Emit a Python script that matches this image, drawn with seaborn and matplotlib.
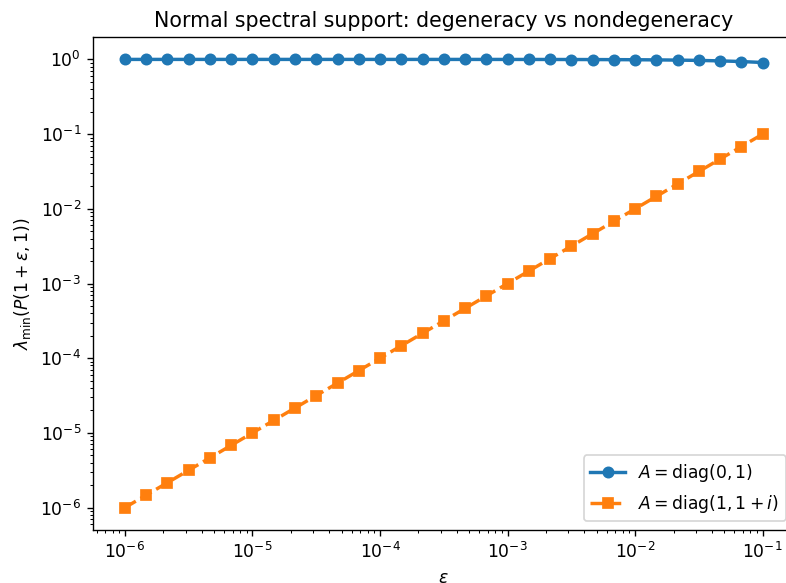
import matplotlib
matplotlib.use("Agg")
import matplotlib.pyplot as plt
import seaborn as sns
import numpy as np

eps = [1.000e-6, 1.468e-6, 2.154e-6, 3.162e-6, 4.642e-6, 6.813e-6,
       1.000e-5, 1.468e-5, 2.154e-5, 3.162e-5, 4.642e-5, 6.813e-5,
       1.000e-4, 1.468e-4, 2.154e-4, 3.162e-4, 4.642e-4, 6.813e-4,
       1.000e-3, 1.468e-3, 2.154e-3, 3.162e-3, 4.642e-3, 6.813e-3,
       1.000e-2, 1.468e-2, 2.154e-2, 3.162e-2, 4.642e-2, 6.813e-2,
       1.000e-1]

lam_degenerate = [1.0, 1.0, 1.0, 1.0, 1.0, 0.99999,
                  0.99999, 0.99999, 0.99998, 0.99997, 0.99995, 0.99993,
                  0.9999, 0.99985, 0.99978, 0.99968, 0.99954, 0.99932,
                  0.9990, 0.99853, 0.99785, 0.99685, 0.99538, 0.99323,
                  0.9901, 0.98553, 0.97891, 0.96935, 0.95564, 0.93621,
                  0.90909]

lam_nondegenerate = [1.000e-6, 1.468e-6, 2.154e-6, 3.162e-6, 4.642e-6, 6.813e-6,
                     1.000e-5, 1.468e-5, 2.154e-5, 3.162e-5, 4.642e-5, 6.813e-5,
                     1.000e-4, 1.468e-4, 2.154e-4, 3.162e-4, 4.642e-4, 6.813e-4,
                     1.000e-3, 1.468e-3, 2.154e-3, 3.162e-3, 4.642e-3, 6.813e-3,
                     1.000e-2, 1.468e-2, 2.154e-2, 3.162e-2, 4.642e-2, 6.813e-2,
                     1.000e-1]

labels = [r"$A = \mathrm{diag}(0, 1)$", r"$A = \mathrm{diag}(1, 1 + i)$"]
colors = ["#1f77b4", "#ff7f0e"]

DPI = 123
fig = plt.figure(figsize=(786 / DPI, 583 / DPI), dpi=DPI)
ax = fig.add_axes([93 / 786, 53 / 583, (794.6 - 93) / 786, (530 - 37) / 583])

sns.lineplot(x=eps, y=lam_degenerate, ax=ax, color=colors[0], marker="o",
             linestyle="-", linewidth=2, markersize=6, markeredgecolor=colors[0],
             markeredgewidth=1, label=labels[0])
sns.lineplot(x=eps, y=lam_nondegenerate, ax=ax, color=colors[1], marker="s",
             linestyle="--", linewidth=2, markersize=6, markeredgecolor=colors[1],
             markeredgewidth=1, label=labels[1])

ax.set_xscale("log")
ax.set_yscale("log")
ax.set_xlim(10 ** -6.25, 10 ** -0.75)
ax.set_ylim(10 ** -6.3, 10 ** 0.3)
ax.set_xlabel(r"$\varepsilon$")
ax.set_ylabel(r"$\lambda_{\min}(P(1+\varepsilon, 1))$")
ax.set_title("Normal spectral support: degeneracy vs nondegeneracy")
ax.legend(loc="lower right")

fig.savefig("out.png", dpi=DPI)
